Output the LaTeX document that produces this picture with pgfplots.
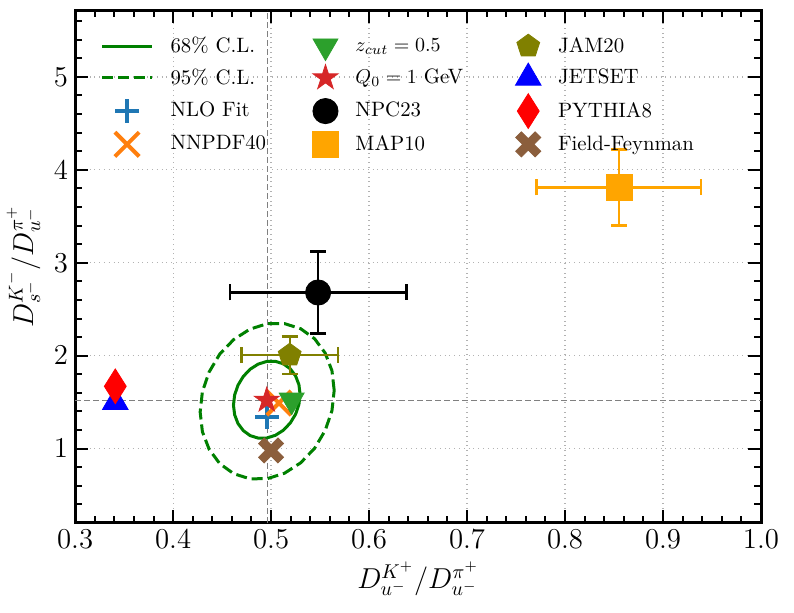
\documentclass[border=0pt]{standalone}
\usepackage{pgfplots}
\pgfplotsset{compat=1.18}
\usetikzlibrary{plotmarks}
\definecolor{ellgreen}{HTML}{008000}
\definecolor{tabgreen}{HTML}{2CA02C}
\definecolor{tabred}{HTML}{D62728}
\definecolor{tabblue}{HTML}{1F77B4}
\definecolor{taborange}{HTML}{FF7F0E}
\definecolor{maporange}{HTML}{FFA500}
\definecolor{olive}{HTML}{808000}
\definecolor{pureblue}{HTML}{0000FF}
\definecolor{purered}{HTML}{FF0000}
\definecolor{ffbrown}{HTML}{8B5E3C}
\pgfdeclareplotmark{fstar}{%
  \pgfpathmoveto{\pgfpointpolar{90}{\pgfplotmarksize}}%
  \pgfpathlineto{\pgfpointpolar{126}{0.382\pgfplotmarksize}}%
  \pgfpathlineto{\pgfpointpolar{162}{\pgfplotmarksize}}%
  \pgfpathlineto{\pgfpointpolar{198}{0.382\pgfplotmarksize}}%
  \pgfpathlineto{\pgfpointpolar{234}{\pgfplotmarksize}}%
  \pgfpathlineto{\pgfpointpolar{270}{0.382\pgfplotmarksize}}%
  \pgfpathlineto{\pgfpointpolar{306}{\pgfplotmarksize}}%
  \pgfpathlineto{\pgfpointpolar{342}{0.382\pgfplotmarksize}}%
  \pgfpathlineto{\pgfpointpolar{18}{\pgfplotmarksize}}%
  \pgfpathlineto{\pgfpointpolar{54}{0.382\pgfplotmarksize}}%
  \pgfpathclose
  \pgfusepathqfillstroke
}
\pgfdeclareplotmark{fX}{%
  \pgfpathmoveto{\pgfqpoint{0pt}{0.45\pgfplotmarksize}}%
  \pgfpathlineto{\pgfqpoint{0.55\pgfplotmarksize}{\pgfplotmarksize}}%
  \pgfpathlineto{\pgfqpoint{\pgfplotmarksize}{0.55\pgfplotmarksize}}%
  \pgfpathlineto{\pgfqpoint{0.45\pgfplotmarksize}{0pt}}%
  \pgfpathlineto{\pgfqpoint{\pgfplotmarksize}{-0.55\pgfplotmarksize}}%
  \pgfpathlineto{\pgfqpoint{0.55\pgfplotmarksize}{-\pgfplotmarksize}}%
  \pgfpathlineto{\pgfqpoint{0pt}{-0.45\pgfplotmarksize}}%
  \pgfpathlineto{\pgfqpoint{-0.55\pgfplotmarksize}{-\pgfplotmarksize}}%
  \pgfpathlineto{\pgfqpoint{-\pgfplotmarksize}{-0.55\pgfplotmarksize}}%
  \pgfpathlineto{\pgfqpoint{-0.45\pgfplotmarksize}{0pt}}%
  \pgfpathlineto{\pgfqpoint{-\pgfplotmarksize}{0.55\pgfplotmarksize}}%
  \pgfpathlineto{\pgfqpoint{-0.55\pgfplotmarksize}{\pgfplotmarksize}}%
  \pgfpathclose
  \pgfusepathqfillstroke
}
\pgfplotsset{
  lineleg/.style={legend image code/.code={\draw[##1] (0pt,0pt) -- (25pt,0pt);}},
  markleg/.style={legend image code/.code={\draw[##1] plot coordinates {(12.5pt,0pt)};}},
}
\begin{document}
\begin{tikzpicture}
\begin{axis}[
  scale only axis, width=343pt, height=256.5pt,
  xmin=0.3, xmax=1.0, ymin=0.2, ymax=5.72,
  xtick={0.3,0.4,0.5,0.6,0.7,0.8,0.9,1.0},
  ytick={1,2,3,4,5},
  minor xtick={0.32,0.34,0.36,0.38,0.42,0.44,0.46,0.48,0.52,0.54,0.56,0.58,0.62,0.64,0.66,0.68,0.72,0.74,0.76,0.78,0.82,0.84,0.86,0.88,0.92,0.94,0.96,0.98},
  minor ytick={0.4,0.6,0.8,1.2,1.4,1.6,1.8,2.2,2.4,2.6,2.8,3.2,3.4,3.6,3.8,4.2,4.4,4.6,4.8,5.2,5.4,5.6},
  tick align=inside,
  major tick length=6.5pt, minor tick length=3.3pt,
  every tick/.style={black, line width=1pt},
  axis line style={line width=1.5pt},
  xmajorgrids, ymajorgrids,
  major grid style={dotted, black!30, line width=0.6pt},
  xticklabel style={/pgf/number format/.cd, fixed, fixed zerofill, precision=1},
  tick label style={font=\fontsize{14}{17}\selectfont},
  label style={font=\fontsize{14}{17}\selectfont},
  xlabel={$D^{K^+}_{u^-}/D^{\pi^+}_{u^-}$},
  ylabel={$D^{K^-}_{s^-}/D^{\pi^+}_{u^-}$},
  legend columns=3,
  legend cell align=left,
  legend style={draw=none, fill=none, at={(0.0277,0.969)}, anchor=north west,
    font=\fontsize{10.4}{12.5}\selectfont, row sep=0pt, column sep=0pt,
    nodes={inner xsep=0pt, inner ysep=0pt, minimum height=15.85pt},
    /tikz/every odd column/.append style={column sep=8.5pt}},
]
% reference lines
\addplot[forget plot, gray, line width=0.6pt, dash pattern=on 3pt off 1.5pt] coordinates {(0.496,0.2) (0.496,5.72)};
\addplot[forget plot, gray, line width=0.6pt, dash pattern=on 3pt off 1.5pt] coordinates {(0.3,1.52) (1.0,1.52)};
% 95% C.L.
\addplot[forget plot, ellgreen, line width=1.5pt, line join=round, dash pattern=on 5.5pt off 2.5pt] coordinates {
(0.5644,1.627) (0.5621,1.839) (0.5552,2.028) (0.5444,2.182) (0.5302,2.290) (0.5137,2.345)
(0.4960,2.344) (0.4783,2.285) (0.4618,2.173) (0.4476,2.017) (0.4368,1.825) (0.4299,1.613)
(0.4276,1.393) (0.4299,1.181) (0.4368,0.992) (0.4476,0.838) (0.4618,0.730) (0.4783,0.675)
(0.4960,0.676) (0.5137,0.735) (0.5302,0.847) (0.5444,1.003) (0.5552,1.195) (0.5621,1.407)
(0.5644,1.627)};
% 68% C.L.
\addplot[forget plot, ellgreen, line width=1.5pt, line join=round] coordinates {
(0.5296,1.584) (0.5284,1.688) (0.5250,1.782) (0.5196,1.858) (0.5126,1.912) (0.5044,1.939)
(0.4956,1.938) (0.4868,1.909) (0.4786,1.854) (0.4716,1.776) (0.4662,1.682) (0.4628,1.577)
(0.4616,1.468) (0.4628,1.364) (0.4662,1.270) (0.4716,1.194) (0.4786,1.140) (0.4868,1.113)
(0.4956,1.114) (0.5044,1.143) (0.5126,1.198) (0.5196,1.276) (0.5250,1.370) (0.5284,1.475)
(0.5296,1.584)};
% NLO Fit
\addplot[forget plot, only marks, tabblue, mark=+, mark size=6pt, mark options={line width=2pt}] coordinates {(0.496,1.34)};
% NNPDF40
\addplot[forget plot, only marks, taborange, mark=x, mark size=8.6pt, mark options={line width=2pt}] coordinates {(0.508,1.49)};
% Q0
\addplot[forget plot, only marks, tabred, mark=fstar, mark size=6.6pt, mark options={line width=0.4pt}] coordinates {(0.4956,1.52)};
% zcut
\addplot[forget plot, only marks, tabgreen, mark=triangle*, mark size=7.2pt, mark options={rotate=180, line width=0.4pt}] coordinates {(0.521,1.52)};
% NPC23
\addplot[forget plot, only marks, black, mark=*, mark size=6.3pt,
  error bars/.cd, x dir=both, x explicit, y dir=both, y explicit,
  error bar style={line width=1.2pt}, error mark options={rotate=90, mark size=4pt, line width=1.2pt}]
  coordinates {(0.548,2.68) +- (0.09,0.44)};
% MAP10
\addplot[forget plot, only marks, maporange, mark=square*, mark size=6.5pt,
  error bars/.cd, x dir=both, x explicit, y dir=both, y explicit,
  error bar style={line width=1.2pt}, error mark options={rotate=90, mark size=4pt, line width=1.2pt}]
  coordinates {(0.855,3.81) +- (0.084,0.41)};
% JAM20
\addplot[forget plot, only marks, olive, mark=pentagon*, mark size=6pt,
  error bars/.cd, x dir=both, x explicit, y dir=both, y explicit,
  error bar style={line width=1.2pt}, error mark options={rotate=90, mark size=4pt, line width=1.2pt}]
  coordinates {(0.519,2.005) +- (0.049,0.2)};
% JETSET
\addplot[forget plot, only marks, pureblue, mark=triangle*, mark size=7.4pt, mark options={line width=0.4pt}] coordinates {(0.341,1.50)};
% PYTHIA8
\addplot[forget plot, only marks, purered, mark=diamond*, mark size=8.7pt, mark options={xscale=0.84, line width=0.4pt}] coordinates {(0.341,1.67)};
% Field-Feynman
\addplot[forget plot, only marks, ffbrown, mark=fX, mark size=6.25pt, mark options={line width=0.4pt}] coordinates {(0.500,0.98)};

% legend (row-wise)
\addlegendimage{lineleg, ellgreen, line width=1.5pt}
\addlegendentry[text width=71pt]{68\% C.L.}
\addlegendimage{markleg, tabgreen, mark=triangle*, mark size=7.2pt, mark options={rotate=180, line width=0.4pt}}
\addlegendentry[text width=80pt]{$z_{cut}=0.5$}
\addlegendimage{markleg, olive, mark=pentagon*, mark size=6pt}
\addlegendentry{JAM20}
\addlegendimage{lineleg, ellgreen, line width=1.5pt, dash pattern=on 5.5pt off 2.5pt}
\addlegendentry[text width=71pt]{95\% C.L.}
\addlegendimage{markleg, tabred, mark=fstar, mark size=6.6pt, mark options={line width=0.4pt}}
\addlegendentry[text width=80pt]{$Q_0=1$ GeV}
\addlegendimage{markleg, pureblue, mark=triangle*, mark size=7.4pt, mark options={line width=0.4pt}}
\addlegendentry{JETSET}
\addlegendimage{markleg, tabblue, mark=+, mark size=6pt, mark options={line width=2pt}}
\addlegendentry[text width=71pt]{NLO Fit}
\addlegendimage{markleg, black, mark=*, mark size=6.3pt}
\addlegendentry[text width=80pt]{NPC23}
\addlegendimage{markleg, purered, mark=diamond*, mark size=8.7pt, mark options={xscale=0.84, line width=0.4pt}}
\addlegendentry{PYTHIA8}
\addlegendimage{markleg, taborange, mark=x, mark size=8.6pt, mark options={line width=2pt}}
\addlegendentry[text width=71pt]{NNPDF40}
\addlegendimage{markleg, maporange, mark=square*, mark size=6.5pt}
\addlegendentry[text width=80pt]{MAP10}
\addlegendimage{markleg, ffbrown, mark=fX, mark size=6.25pt, mark options={line width=0.4pt}}
\addlegendentry{Field-Feynman}

\coordinate (bl) at (rel axis cs:0,0);
\coordinate (tr) at (rel axis cs:1,1);
\end{axis}
\path ([shift={(-37.5pt,-45pt)}]bl) rectangle ([shift={(16.5pt,5pt)}]tr);
\end{tikzpicture}
\end{document}
